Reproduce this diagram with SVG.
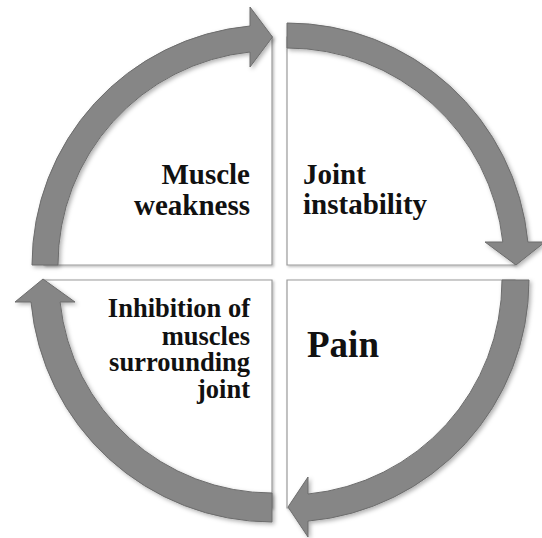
<svg xmlns="http://www.w3.org/2000/svg" width="542" height="538" viewBox="0 0 542 538">
  <defs>
    <filter id="sh" x="-10%" y="-10%" width="130%" height="130%">
      <feDropShadow dx="1.5" dy="1.5" stdDeviation="1.2" flood-color="#000" flood-opacity="0.25"/>
    </filter>
    <filter id="ash" x="-10%" y="-10%" width="130%" height="130%">
      <feDropShadow dx="2" dy="2" stdDeviation="2" flood-color="#000" flood-opacity="0.3"/>
    </filter>
  </defs>
  <style>
    .sector { fill: #ffffff; stroke: #9a9a9a; stroke-width: 1.2; filter: url(#sh); }
    .lbl { fill: #111111; }
    .arrow { fill: #868686; stroke: #6c6c6c; stroke-width: 1; filter: url(#ash); }
  </style>
  <rect width="542" height="538" fill="#ffffff"/>

  <g id="node-muscle-weakness">
    <path class="sector" d="M 272 265 L 272 37 A 228 228 0 0 0 44 265 Z"/>
    <text class="lbl" font-family="Liberation Serif" font-weight="bold" font-size="29" text-anchor="end"><tspan x="250" y="184">Muscle</tspan><tspan x="250" y="215">weakness</tspan></text>
  </g>

  <g id="node-joint-instability">
    <path class="sector" d="M 287 265 L 287 37 A 228 228 0 0 1 515 265 Z"/>
    <text class="lbl" font-family="Liberation Serif" font-weight="bold" font-size="29"><tspan x="303" y="184">Joint</tspan><tspan x="303" y="214">instability</tspan></text>
  </g>

  <g id="node-inhibition">
    <path class="sector" d="M 272 280 L 272 508 A 228 228 0 0 1 44 280 Z"/>
    <text class="lbl" font-family="Liberation Serif" font-weight="bold" font-size="26.5" text-anchor="end"><tspan x="250" y="317">Inhibition of</tspan><tspan x="250" y="345">muscles</tspan><tspan x="250" y="371">surrounding</tspan><tspan x="250" y="398">joint</tspan></text>
  </g>

  <g id="node-pain">
    <path class="sector" d="M 287 280 L 515 280 A 228 228 0 0 1 287 508 Z"/>
    <text class="lbl" font-family="Liberation Serif" font-weight="bold" font-size="37" x="307" y="357">Pain</text>
  </g>

  <g id="connectors">
    <path class="arrow" d="M 32 265 A 240 240 0 0 1 250 26 L 250 7 L 272.5 37 L 250 67 L 250 52 A 214 214 0 0 0 58 265 Z"/>
    <path class="arrow" d="M 287 23 A 242 242 0 0 1 527.9 242 L 545 242 L 516 265 L 485 242 L 502.8 242 A 217 217 0 0 0 287 48 Z"/>
    <path class="arrow" d="M 529 280 A 242 242 0 0 1 308 521.1 L 308 537 L 288 507 L 308 477 L 308 494 A 215 215 0 0 0 502 280 Z"/>
    <path class="arrow" d="M 272 522 A 242 242 0 0 1 31 302 L 15 302 L 43 279 L 75 302 L 60.1 302 A 213 213 0 0 0 272 493 Z"/>
  </g>
</svg>
